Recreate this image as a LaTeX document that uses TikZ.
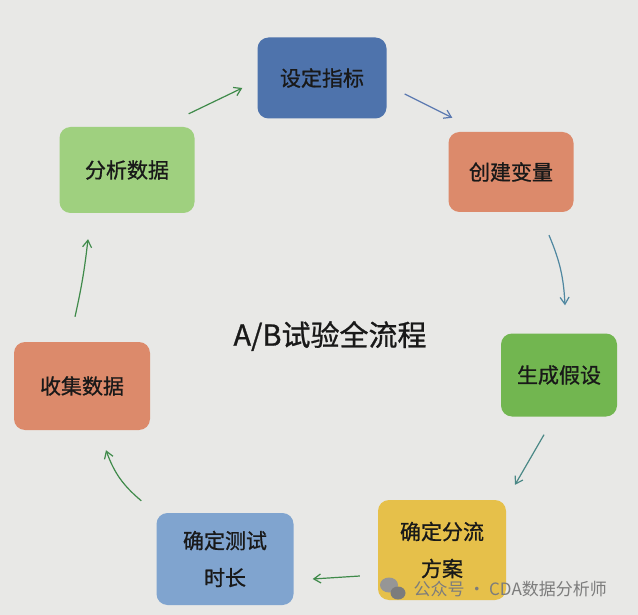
\documentclass[tikz,border=0pt]{standalone}
\usepackage{fontspec}
\setmainfont{Noto Sans CJK SC}
\newfontfamily\medfont{Noto Sans CJK SC}[FakeBold=0.9]
\usetikzlibrary{arrows.meta,calc}
\definecolor{paper}{HTML}{E8E8E6}
\definecolor{cblue}{HTML}{4E73AC}
\definecolor{corange}{HTML}{DC8A6B}
\definecolor{cgreen}{HTML}{72B650}
\definecolor{cyellow}{HTML}{E6C04A}
\definecolor{clblue}{HTML}{80A4CF}
\definecolor{clgreen}{HTML}{9FD07F}
\definecolor{agreen}{HTML}{3F8A4A}
\definecolor{ablue}{HTML}{5A78B0}
\definecolor{ateal}{HTML}{4F87A0}
\definecolor{wm}{HTML}{7C7C7C}
\tikzset{
  box/.style={rectangle, rounded corners=11pt, draw=none, inner sep=0pt,
    font=\medfont\fontsize{21}{37}\selectfont, text=black!90, align=center},
  arr/.style={line width=1.2pt, -{Straight Barb[length=7pt,width=9pt]}},
}
\begin{document}
\begin{tikzpicture}[x=1pt,y=-1pt]
\fill[paper] (0,0) rectangle (638,615);
\useasboundingbox (0,0) rectangle (638,615);
% boxes
\node[box, fill=cblue, minimum width=129pt, minimum height=81pt] (sd) at (322,78) {设定指标};
\node[box, fill=corange, minimum width=125pt, minimum height=80pt] (cj) at (511,172) {创建变量};
\node[box, fill=cgreen, minimum width=116pt, minimum height=83pt] (sc) at (559,375) {生成假设};
\node[box, fill=cyellow, minimum width=128pt, minimum height=100pt] (fl) at (442,550) {确定分流\\方案};
\node[box, fill=clblue, minimum width=137pt, minimum height=92pt] (cs) at (225,559) {确定测试\\时长};
\node[box, fill=corange, minimum width=136pt, minimum height=88pt] (sj) at (82,386) {收集数据};
\node[box, fill=clgreen, minimum width=135pt, minimum height=86pt] (fx) at (127,170) {分析数据};
% title
\node[font=\medfont\fontsize{29}{34}\selectfont, text=black!90] (title) at (330,336) {A/B试验全流程};
% arrows
\draw[arr, agreen] ($(fx.north east)+(-6,-13)$) -- ($(sd.west)+(-15,10)$);
\draw[arr, ablue] ($(sd.east)+(18,16)$) -- ($(cj.north west)+(4,-14)$);
\draw[arr, ateal] ($(cj.south)+(38,23)$) to[bend left=10] ($(sc.north)+(6,-28)$);
\draw[arr, ateal!70!agreen] ($(sc.south)+(-15,18)$) -- ($(fl.north)+(73,-15)$);
\draw[arr, agreen] ($(fl.west)+(-18,26)$) -- ($(cs.east)+(19,20)$);
\draw[arr, agreen] ($(cs.north west)+(-15,-12)$) to[bend left=15] ($(sj.south)+(24,20)$);
\draw[arr, agreen] ($(sj.north)+(-7,-25)$) to[bend right=3] ($(fx.south)+(-39,26)$);
% watermark
\fill[wm!80] (389,585) ellipse (9pt and 7.5pt);
\fill[wm] (398,593) ellipse (7.5pt and 6.5pt);
\node[font=\fontsize{17}{20}\selectfont, text=wm, anchor=west] (wmark) at (410,589) {公众号 · CDA数据分析师};
\end{tikzpicture}
\end{document}
